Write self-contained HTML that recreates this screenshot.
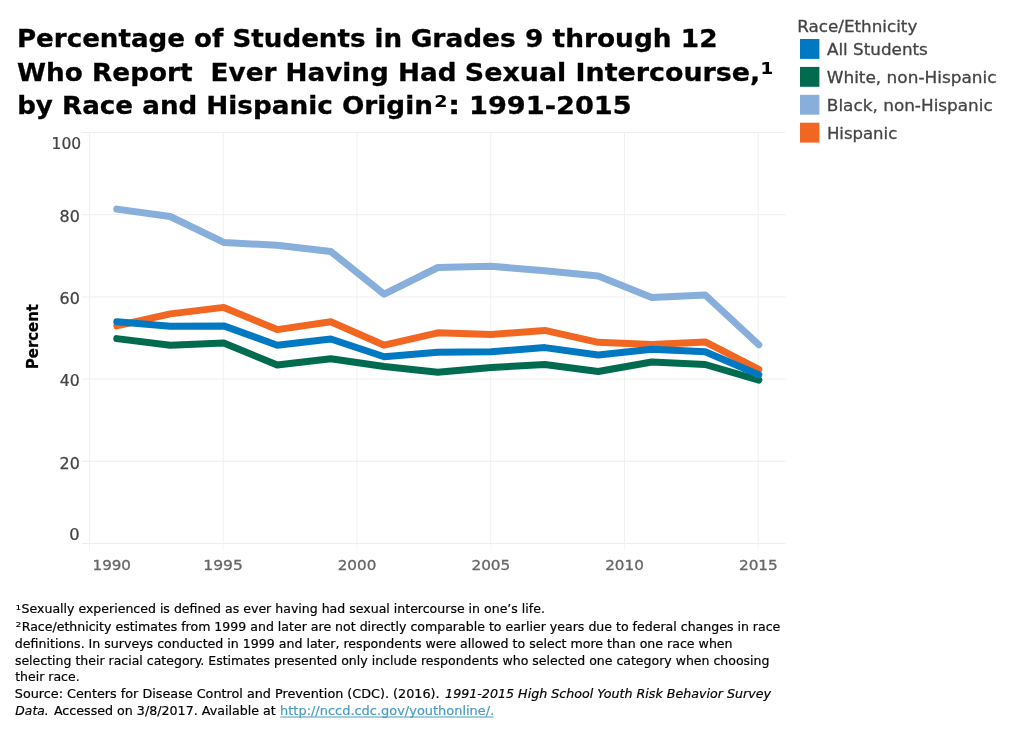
<!DOCTYPE html>
<html lang="en"><head><meta charset="utf-8"><title>Chart</title>
<style>
html,body{margin:0;padding:0;background:#fff;}
body{width:1023px;height:729px;overflow:hidden;font-family:"DejaVu Sans","Liberation Sans",sans-serif;}
svg{display:block;position:absolute;left:0;top:0;}
text{font-family:"DejaVu Sans","Liberation Sans",sans-serif;white-space:pre;}
.ttl{font-weight:bold;font-size:25.4px;fill:#000;stroke:#000;stroke-width:0.3px;}
.sup{font-weight:bold;font-size:26px;fill:#000;}
.yt{font-size:15.3px;fill:#444;stroke:#444;stroke-width:0.25px;}
.xt{font-size:14.5px;fill:#666;stroke:#666;stroke-width:0.3px;}
.lg{font-size:16.5px;fill:#444;stroke:#444;stroke-width:0.3px;}
.fn{font-size:13px;fill:#000;stroke:#000;stroke-width:0.2px;}
.fni{font-size:13px;fill:#000;stroke:#000;stroke-width:0.2px;font-style:italic;}
.grid{stroke:#eee;stroke-width:1;}
.gridv{stroke:#f0f0f0;stroke-width:1;}
.ln{fill:none;stroke-width:7;stroke-linecap:round;stroke-linejoin:round;}
</style></head><body>
<svg width="1023" height="729" viewBox="0 0 1023 729">
<rect width="1023" height="729" fill="#fff"/>

<line class="grid" x1="82" x2="785.5" y1="543.5" y2="543.5"/>
<line class="grid" x1="82" x2="785.5" y1="461.3" y2="461.3"/>
<line class="grid" x1="82" x2="785.5" y1="379.1" y2="379.1"/>
<line class="grid" x1="82" x2="785.5" y1="296.9" y2="296.9"/>
<line class="grid" x1="82" x2="785.5" y1="214.7" y2="214.7"/>
<line class="grid" x1="82" x2="785.5" y1="132.5" y2="132.5"/>
<line class="gridv" x1="89.5" x2="89.5" y1="132" y2="544"/>
<line x1="89.5" x2="89.5" y1="544" y2="550.5" stroke="#f5f5f5" stroke-width="1"/>
<line class="gridv" x1="223.2" x2="223.2" y1="132" y2="544"/>
<line x1="223.2" x2="223.2" y1="544" y2="550.5" stroke="#f5f5f5" stroke-width="1"/>
<line class="gridv" x1="357.0" x2="357.0" y1="132" y2="544"/>
<line x1="357.0" x2="357.0" y1="544" y2="550.5" stroke="#f5f5f5" stroke-width="1"/>
<line class="gridv" x1="490.8" x2="490.8" y1="132" y2="544"/>
<line x1="490.8" x2="490.8" y1="544" y2="550.5" stroke="#f5f5f5" stroke-width="1"/>
<line class="gridv" x1="624.5" x2="624.5" y1="132" y2="544"/>
<line x1="624.5" x2="624.5" y1="544" y2="550.5" stroke="#f5f5f5" stroke-width="1"/>
<line class="gridv" x1="758.2" x2="758.2" y1="132" y2="544"/>
<line x1="758.2" x2="758.2" y1="544" y2="550.5" stroke="#f5f5f5" stroke-width="1"/>
<path class="ln" stroke="#F16722" d="M116.8,325.9 L170.2,313.9 L223.8,307.4 L277.2,329.6 L330.8,321.7 L384.2,345.2 L437.8,332.8 L491.2,334.5 L544.8,330.4 L598.2,342.3 L651.8,344.4 L705.2,341.9 L758.8,369.4"/>
<path class="ln" stroke="#88AEDC" d="M116.8,209.1 L170.2,216.5 L223.8,242.4 L277.2,245.3 L330.8,251.5 L384.2,294.2 L437.8,267.5 L491.2,266.3 L544.8,270.8 L598.2,276.1 L651.8,297.5 L705.2,295.0 L758.8,344.8"/>
<path class="ln" stroke="#006B4F" d="M116.8,338.6 L170.2,345.2 L223.8,343.1 L277.2,364.9 L330.8,358.7 L384.2,366.5 L437.8,372.3 L491.2,367.4 L544.8,364.5 L598.2,371.5 L651.8,362.0 L705.2,364.5 L758.8,380.1"/>
<path class="ln" stroke="#0079C2" d="M116.8,321.7 L170.2,326.3 L223.8,325.9 L277.2,345.2 L330.8,339.0 L384.2,356.7 L437.8,352.2 L491.2,351.8 L544.8,347.6 L598.2,355.0 L651.8,349.3 L705.2,351.8 L758.8,374.8"/>
<text class="yt" transform="translate(59.56,468.50) scale(1.0400,1)">20</text>
<text class="yt" transform="translate(59.83,386.30) scale(1.0254,1)">40</text>
<text class="yt" transform="translate(59.56,304.10) scale(1.0400,1)">60</text>
<text class="yt" transform="translate(59.56,221.90) scale(1.0400,1)">80</text>
<text class="yt" transform="translate(51.62,149.00) scale(1.0151,1)">100</text>
<text class="yt" transform="translate(69.33,539.60) scale(1.0710,1)">0</text>
<text class="xt" transform="translate(203.34,570.10) scale(1.0715,1)">1995</text>
<text class="xt" transform="translate(337.65,570.10) scale(1.0486,1)">2000</text>
<text class="xt" transform="translate(471.39,570.10) scale(1.0561,1)">2005</text>
<text class="xt" transform="translate(605.15,570.10) scale(1.0486,1)">2010</text>
<text class="xt" transform="translate(738.89,570.10) scale(1.0561,1)">2015</text>
<text class="xt" transform="translate(92.53,570.10) scale(1.0435,1)">1990</text>
<text transform="translate(38.1,369.14) rotate(-90) scale(0.9570,1)" style="font-weight:bold;font-size:15.6px;fill:#000;stroke:#000;stroke-width:0.25px">Percent</text>
<text class="ttl" transform="translate(16.88,47.10) scale(1.0290,1)">Percentage of Students in</text>
<text class="ttl" transform="translate(410.70,47.10) scale(1.0398,1)">Grades 9 through 12</text>
<text class="ttl" transform="translate(17.12,81.10) scale(1.0357,1)">Who Report</text>
<text class="ttl" transform="translate(210.57,81.10) scale(1.0343,1)">Ever Having Had</text>
<text class="ttl" transform="translate(464.85,81.10) scale(1.0584,1)">Sexual Intercourse,</text>
<text transform="translate(760.38,82.52) scale(1.0807,1)" style="font-weight:bold;font-size:28.05px;fill:#000">¹</text>
<text class="ttl" transform="translate(17.14,114.20) scale(1.0307,1)">by Race and</text>
<text class="ttl" transform="translate(206.17,114.20) scale(1.0364,1)">Hispanic Origin</text>
<text transform="translate(433.99,115.91) scale(1.0968,1)" style="font-weight:bold;font-size:28.33px;fill:#000">²</text>
<text class="ttl" transform="translate(447.90,114.20) scale(1.2000,1)">:</text>
<text class="ttl" transform="translate(468.95,114.20) scale(1.0716,1)">1991-2015</text>
<text class="lg" transform="translate(797.18,31.70) scale(1.0159,1)">Race/Ethnicity</text>
<rect x="800" y="39.0" width="19.4" height="19.9" fill="#0079C2"/>
<text class="lg" transform="translate(826.95,55.30) scale(1.0178,1)">All Students</text>
<rect x="800" y="66.9" width="19.4" height="19.9" fill="#006B4F"/>
<text class="lg" transform="translate(826.69,83.20) scale(1.0253,1)">White, non-Hispanic</text>
<rect x="800" y="94.8" width="19.4" height="19.9" fill="#88AEDC"/>
<text class="lg" transform="translate(826.87,111.10) scale(1.0225,1)">Black, non-Hispanic</text>
<rect x="800" y="122.7" width="19.4" height="19.9" fill="#F16722"/>
<text class="lg" transform="translate(826.90,139.00) scale(1.0022,1)">Hispanic</text>
<text transform="translate(15.47,613.82) scale(1.1264,1)" style="font-weight:normal;font-size:12.68px;fill:#000">¹</text>
<text class="fn" transform="translate(21.58,613.30) scale(0.9652,1)">Sexually experienced is defined as ever having had sexual intercourse in one’s life.</text>
<text transform="translate(15.41,631.36) scale(1.3189,1)" style="font-weight:normal;font-size:11.57px;fill:#000">²</text>
<text class="fn" transform="translate(21.69,631.40) scale(0.9667,1)">Race/ethnicity estimates from 1999 and later are not directly comparable to earlier years due to federal changes in race</text>
<text class="fn" transform="translate(14.87,648.20) scale(0.9689,1)">definitions. In surveys conducted in 1999 and later, respondents were allowed to select more than one race when</text>
<text class="fn" transform="translate(14.88,664.80) scale(0.9637,1)">selecting their racial category. Estimates presented only include respondents who selected one category when choosing</text>
<text class="fn" transform="translate(15.16,681.30) scale(0.9634,1)">their race.</text>
<text class="fn" transform="translate(14.86,698.00) scale(0.9841,1)">Source: Centers for Disease Control and Prevention (CDC). (2016).</text>
<text class="fni" transform="translate(445.07,698.00) scale(0.9749,1)">1991-2015 High School Youth Risk Behavior Survey</text>
<text class="fni" transform="translate(15.36,714.70) scale(0.9474,1)">Data.</text>
<text class="fn" transform="translate(53.90,714.70) scale(0.9741,1)">Accessed on 3/8/2017. Available at</text>
<text class="fn" transform="translate(280.05,714.70) scale(0.9967,1)" style="fill:#4b9cc0;stroke:#4b9cc0">http://nccd.cdc.gov/youthonline/.</text>
<line x1="280.3" x2="493.5" y1="717" y2="717" stroke="#4b9cc0" stroke-width="1"/>
</svg></body></html>
